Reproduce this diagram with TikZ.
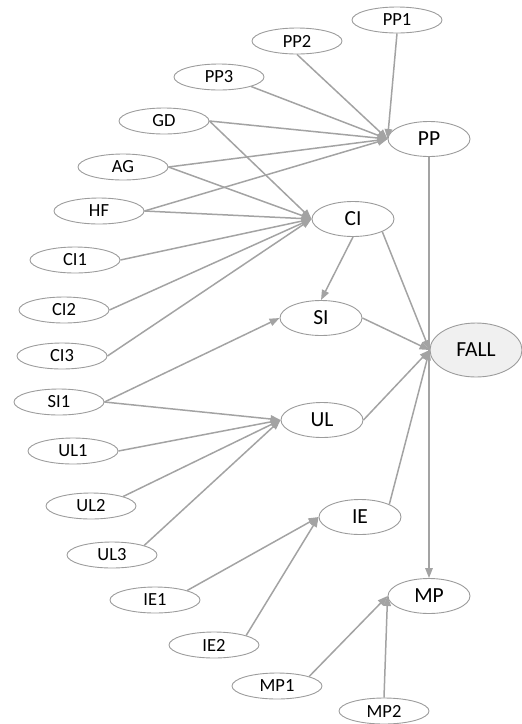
\documentclass[tikz,border=0pt]{standalone}
\usepackage{fontspec}
\setmainfont{Carlito}
\usetikzlibrary{shapes.geometric,arrows.meta}
\definecolor{edgegray}{HTML}{A3A3A3}
\definecolor{rimgray}{HTML}{9C9C9C}
\definecolor{fallfill}{HTML}{F0F0F0}
\begin{document}
\begin{tikzpicture}[x=1pt,y=-1pt,
  var/.style={ellipse,draw=rimgray,line width=0.9pt,fill=white,inner sep=0pt,
    minimum width=90pt,minimum height=26pt,font=\fontsize{18.5}{18.5}\selectfont},
  factor/.style={ellipse,draw=rimgray,line width=0.9pt,fill=white,inner sep=0pt,
    minimum width=82pt,minimum height=35pt,font=\fontsize{21.5}{21.5}\selectfont},
  outcome/.style={factor,fill=fallfill,minimum width=92pt,minimum height=54pt},
  link/.style={draw=edgegray,line width=1.5pt,
    -{Triangle[length=10pt,width=7.5pt]}}]
\useasboundingbox (0,0) rectangle (522,724);

% central factors
\node[factor] (PP) at (429,139) {PP};
\node[factor] (CI) at (353,219) {CI};
\node[factor] (SI) at (321,318) {SI};
\node[factor] (UL) at (322,420) {UL};
\node[factor] (IE) at (360,517) {IE};
\node[factor] (MP) at (429,596) {MP};
\node[outcome] (FALL) at (476,350) {FALL};

% observed variables
\node[var] (PP1) at (397,20) {PP1};
\node[var] (PP2) at (297,41) {PP2};
\node[var] (PP3) at (219,77) {PP3};
\node[var] (GD) at (164,121) {GD};
\node[var] (AG) at (123,167) {AG};
\node[var] (HF) at (99,211) {HF};
\node[var] (CI1) at (75,260) {CI1};
\node[var] (CI2) at (64,310) {CI2};
\node[var] (CI3) at (62,356) {CI3};
\node[var] (SI1) at (59,402) {SI1};
\node[var] (UL1) at (73,451) {UL1};
\node[var] (UL2) at (91,506) {UL2};
\node[var] (UL3) at (112,555) {UL3};
\node[var] (IE1) at (155,600) {IE1};
\node[var] (IE2) at (214,645) {IE2};
\node[var] (MP1) at (277,686) {MP1};
\node[var] (MP2) at (384,711) {MP2};

% into PP
\draw[link] (PP1.south) -- (PP.west);
\draw[link] (PP2.south) -- (PP.west);
\draw[link] (PP3.south east) -- (PP.west);
\draw[link] (GD.east) -- (PP.west);
\draw[link] (AG.east) -- (PP.west);
\draw[link] (HF.east) -- (PP.west);

% into CI
\draw[link] (GD.east) -- (CI.west);
\draw[link] (AG.east) -- (CI.west);
\draw[link] (HF.east) -- (CI.west);
\draw[link] (CI1.east) -- (CI.west);
\draw[link] (CI2.east) -- (CI.west);
\draw[link] (CI3.east) -- (CI.west);

% into SI and UL
\draw[link] (CI.south) -- (SI.north);
\draw[link] (SI1.east) -- (SI.west);
\draw[link] (SI1.east) -- (UL.west);
\draw[link] (UL1.east) -- (UL.west);
\draw[link] (UL2.north east) -- (UL.west);
\draw[link] (UL3.north east) -- (UL.west);

% into IE
\draw[link] (IE1.north east) -- (IE.west);
\draw[link] (IE2.north east) -- (IE.west);

% into MP
\draw[link] (PP.south) -- (MP.north);
\draw[link] (MP1.north east) -- (MP.west);
\draw[link] (MP2.north) -- (MP.west);

% into FALL
\draw[link] (CI.south east) -- (FALL.west);
\draw[link] (SI.east) -- (FALL.west);
\draw[link] (UL.east) -- (FALL.west);
\draw[link] (IE.north east) -- (FALL.west);
\end{tikzpicture}
\end{document}
